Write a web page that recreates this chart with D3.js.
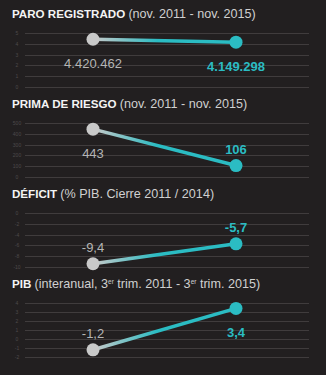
<!DOCTYPE html>
<html>
<head>
<meta charset="utf-8">
<script src="https://cdn.jsdelivr.net/npm/d3@7"></script>
<style>
  html, body { margin: 0; padding: 0; background: #221f20; }
  svg { display: block; }
</style>
</head>
<body>
<svg id="chart" width="326" height="375"></svg>
<script>
// ---- data ----
const titles = ["PARO REGISTRADO", "PRIMA DE RIESGO", "DÉFICIT", "PIB"];
const subtitles = [
  ["(nov. 2011 - nov. 2015)"],
  ["(nov. 2011 - nov. 2015)"],
  ["(% PIB. Cierre 2011 / 2014)"],
  ["(interanual, 3", "er", " trim. 2011 - 3", "er", " trim. 2015)"]
];
const periods = ["inicio", "fin"];
const valuesStart = [4420462, 443, -9.4, -1.2];
const valuesEnd = [4149298, 106, -5.7, 3.4];
const labelsStart = ["4.420.462", "443", "-9,4", "-1,2"];
const labelsEnd = ["4.149.298", "106", "-5,7", "3,4"];
const domains = [[0, 5000000], [0, 500], [-10, 0], [-2, 4]];
const tickValues = [
  [0, 1000000, 2000000, 3000000, 4000000, 5000000],
  [0, 100, 200, 300, 400, 500],
  [-10, -8, -6, -4, -2, 0],
  [-2, -1, 0, 1, 2, 3, 4]
];
const tickLabels = [
  ["0", "1", "2", "3", "4", "5"],
  ["0", "100", "200", "300", "400", "500"],
  ["-10", "-8", "-6", "-4", "-2", "0"],
  ["-2", "-1", "0", "1", "2", "3", "4"]
];

// ---- style ----
const GREY = "#c9c9c9";
const TEAL = "#2bbcc3";
const GRID = "#403c3d";
const panelTop = [0, 90, 180, 270];
const plotTopOffset = 33, plotH = 54;
const gridX0 = 25, gridX1 = 309;

const svg = d3.select("#chart");
const x = d3.scalePoint().domain(periods).range([93, 236]);

const defs = svg.append("defs");
const grad = defs.append("linearGradient")
  .attr("id", "lg").attr("gradientUnits", "userSpaceOnUse")
  .attr("x1", x("inicio")).attr("x2", x("fin")).attr("y1", 0).attr("y2", 0);
grad.append("stop").attr("offset", "0%").attr("stop-color", GREY);
grad.append("stop").attr("offset", "45%").attr("stop-color", TEAL);
grad.append("stop").attr("offset", "100%").attr("stop-color", TEAL);

titles.forEach((t, i) => {
  const g = svg.append("g").attr("transform", `translate(0,${panelTop[i]})`);
  const y = d3.scaleLinear().domain(domains[i]).range([plotTopOffset + plotH, plotTopOffset]);

  // title
  const title = g.append("text").attr("x", 12).attr("y", 18)
    .attr("font-family", "'Liberation Sans', Arial, sans-serif")
    .attr("font-size", 11.6).attr("fill", "#f4f4f4");
  title.append("tspan").attr("font-weight", "bold").text(t + " ");
  subtitles[i].forEach((s, k) => {
    const sp = title.append("tspan")
      .attr("font-size", 12.6).attr("fill", "#d0d0d0").text(s);
    if (k % 2 === 1) sp.attr("font-size", 6.5).attr("dy", -4);
    else if (k > 0) sp.attr("dy", 4);
  });

  // gridlines
  g.selectAll("line.grid").data(tickValues[i]).enter().append("line")
    .attr("x1", gridX0).attr("x2", gridX1)
    .attr("y1", d => Math.round(y(d)) + 0.5).attr("y2", d => Math.round(y(d)) + 0.5)
    .attr("stroke", GRID).attr("stroke-width", 1);

  // tick labels
  g.selectAll("text.tick").data(tickValues[i]).enter().append("text")
    .attr("x", 17).attr("y", d => y(d) + 2)
    .attr("text-anchor", "middle")
    .attr("font-family", "'Liberation Sans', sans-serif")
    .attr("font-size", 5).attr("fill", "#4e4a4b")
    .text((d, k) => tickLabels[i][k]);

  const p0 = [x("inicio"), y(valuesStart[i])];
  const p1 = [x("fin"), y(valuesEnd[i])];

  g.append("line")
    .attr("x1", p0[0]).attr("y1", p0[1]).attr("x2", p1[0]).attr("y2", p1[1] + 0.01)
    .attr("stroke", "url(#lg)").attr("stroke-width", 3.5).attr("stroke-linecap", "round");

  g.append("circle").attr("cx", p0[0]).attr("cy", p0[1]).attr("r", 6.5).attr("fill", GREY);
  g.append("circle").attr("cx", p1[0]).attr("cy", p1[1]).attr("r", 6.5).attr("fill", TEAL);

  const mid = plotTopOffset + plotH / 2;
  const labelY = py => py < mid ? py + 29 : py - 12;

  g.append("text").attr("x", p0[0]).attr("y", labelY(p0[1]))
    .attr("text-anchor", "middle")
    .attr("font-family", "sans-serif")
    .attr("font-size", 13).attr("fill", "#b5b5b5")
    .text(labelsStart[i]);
  g.append("text").attr("x", p1[0]).attr("y", labelY(p1[1]))
    .attr("text-anchor", "middle")
    .attr("font-family", "sans-serif")
    .attr("font-weight", "bold")
    .attr("font-size", 13).attr("fill", TEAL)
    .text(labelsEnd[i]);
});
</script>
</body>
</html>
